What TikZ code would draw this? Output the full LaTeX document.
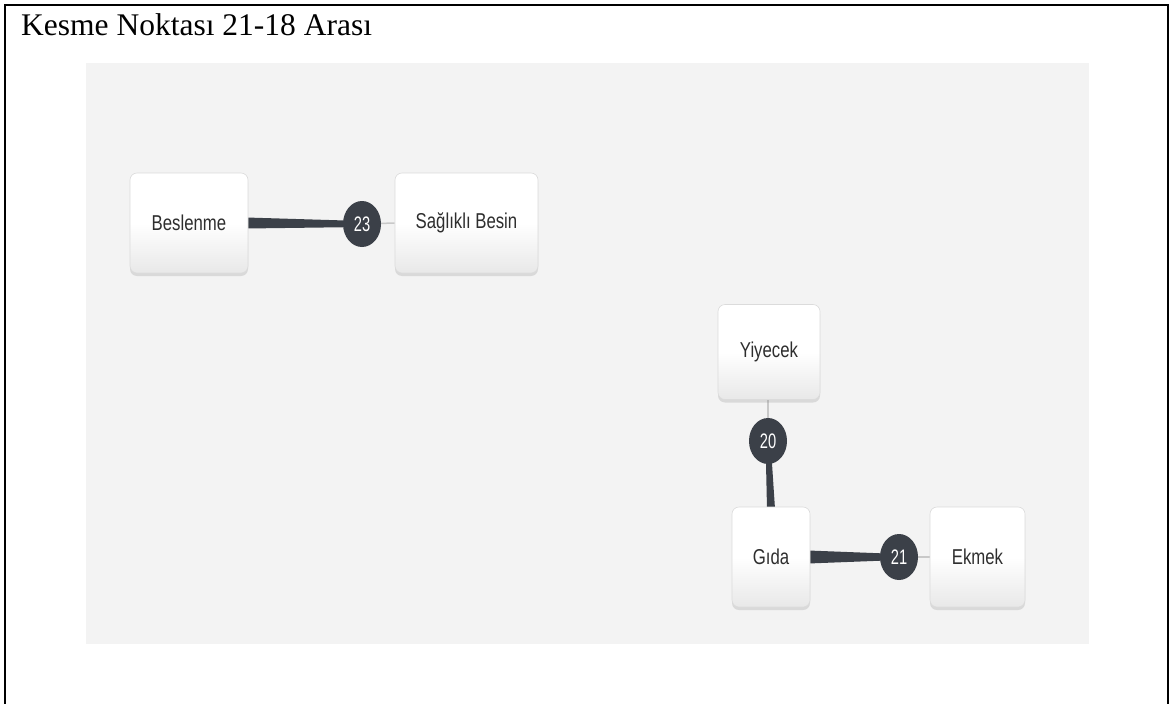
\documentclass[tikz,border=0pt]{standalone}
\usepackage{fontspec}
\setmainfont{Liberation Serif}
\newfontfamily\nodefont[FakeStretch=0.78]{Liberation Sans}
\newfontfamily\badgefont[FakeStretch=0.7]{Liberation Sans}
\usetikzlibrary{calc,shapes.geometric,shadows}
\definecolor{panel}{HTML}{F3F3F3}
\definecolor{edgec}{HTML}{3B4048}
\definecolor{txt}{HTML}{2E2E2E}
\definecolor{thinc}{HTML}{C8C8C8}
\pgfdeclarelayer{bg}
\pgfdeclarelayer{edges}
\pgfsetlayers{bg,edges,main}
\tikzset{
  nbox/.style={rectangle, rounded corners=7pt, draw=gray!28, line width=0.6pt,
    top color=white, bottom color=gray!18, middle color=white,
    drop shadow={opacity=0.22, shadow xshift=0pt, shadow yshift=-3pt},
    font=\nodefont\fontsize{21.5}{24}\selectfont, text=txt, inner sep=0pt},
  badge/.style={ellipse, fill=edgec, minimum width=38pt, minimum height=46pt,
    inner sep=0pt, text=white, font=\badgefont\fontsize{21}{23}\selectfont},
  thinedge/.style={draw=thinc, line width=1.5pt},
}
\begin{document}
\begin{tikzpicture}[x=1pt,y=-1pt]
\useasboundingbox (0,0) rectangle (1170,704);
\begin{pgfonlayer}{bg}
  \fill[white] (0,0) rectangle (1170,704);
  \fill[panel] (86,63) rectangle (1089,644);
\end{pgfonlayer}
\draw[line width=2.5pt, black] (5,706) -- (5,5) -- (1168,5) -- (1168,706);
\node[anchor=base west, inner sep=0pt, font=\fontsize{31.5}{36}\selectfont] (title) at (21,35) {Kesme Noktası 21-18 Arası};

\node[nbox, minimum width=118pt, minimum height=100pt] (bes) at (189,223) {Beslenme};
\node[nbox, minimum width=143pt, minimum height=100pt] (sag) at (466.5,223) {Sağlıklı Besin};
\node[nbox, minimum width=102pt, minimum height=95pt] (yiy) at (769,352) {Yiyecek};
\node[nbox, minimum width=78pt, minimum height=100pt] (gida) at (771,557) {Gıda};
\node[nbox, minimum width=95pt, minimum height=100pt] (ekm) at (977.5,557) {Ekmek};

\node[badge] (b23) at (362,224) {23};
\node[badge] (b20) at (768,441) {20};
\node[badge] (b21) at (899,557) {21};

\begin{pgfonlayer}{edges}
  % Beslenme -> 23 -> Saglikli Besin
  \fill[edgec] ($(bes.east)+(-2,-5.5)$) -- ($(b23.center)+(0,-3)$) -- ($(b23.center)+(0,3)$) -- ($(bes.east)+(-2,5.5)$) -- cycle;
  \draw[thinedge] (b23.center) -- (sag.west);
  % Gida -> 20 -> Yiyecek
  \fill[edgec] ($(gida.north)+(-4,2)$) -- ($(b20.center)+(-2.5,0)$) -- ($(b20.center)+(2.5,0)$) -- ($(gida.north)+(4,2)$) -- cycle;
  \draw[thinedge] (b20.center) -- (b20.center |- yiy.south);
  % Gida -> 21 -> Ekmek
  \fill[edgec] ($(gida.east)+(-2,-6.5)$) -- ($(b21.center)+(0,-3)$) -- ($(b21.center)+(0,3)$) -- ($(gida.east)+(-2,6.5)$) -- cycle;
  \draw[thinedge] (b21.center) -- (ekm.west);
\end{pgfonlayer}
\end{tikzpicture}
\end{document}
